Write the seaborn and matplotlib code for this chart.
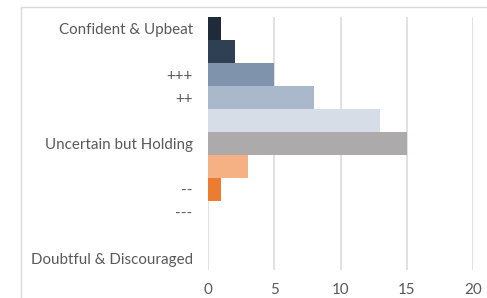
import matplotlib
matplotlib.use("Agg")
import matplotlib.pyplot as plt
import seaborn as sns
import pandas as pd
from matplotlib.patches import Rectangle

# Data
categories = ["Confident & Upbeat", "++++", "+++", "++", "+", "Uncertain but Holding",
              "-", "--", "---", "----", "Doubtful & Discouraged"]
tick_labels = ["Confident & Upbeat", "", "+++", "++", "", "Uncertain but Holding",
               "", "--", "---", "", "Doubtful & Discouraged"]
values = [1, 2, 5, 8, 13, 15, 3, 1, 0, 0, 0]
colors = ["#1f2a3a", "#2f3f54", "#8093ad", "#a9b8ca", "#d6dde7", "#adaaab",
          "#f5b184", "#ec7c30", "#c55a11", "#843c0c", "#5a2a08"]
x_ticks = [0, 5, 10, 15, 20]

sns.set_theme(style="white")
plt.rcParams['font.family'] = ['Lato', 'DejaVu Sans']

df = pd.DataFrame({"category": categories, "value": values})

fig = plt.figure(figsize=(4.87, 2.98), dpi=100)
# outer chart frame
fig.patches.append(Rectangle((21 / 487, -0.1), 1.2, (1 - 6.5 / 298) + 0.1,
                             transform=fig.transFigure, fill=False,
                             edgecolor="#d9d9d9", linewidth=1.0))
ax = fig.add_axes([208 / 487, 1 - 270 / 298, (473 - 208) / 487, 253 / 298])

sns.barplot(data=df, x="value", y="category", hue="category", palette=colors,
            order=categories, hue_order=categories, width=1.0, dodge=False,
            legend=False, orient="h", ax=ax, linewidth=0, saturation=1)

ax.set_xlim(0, 20)
ax.set_ylim(len(categories) - 0.5, -0.5)
ax.set_xticks(x_ticks)
ax.set_xticklabels([str(t) for t in x_ticks])
ax.set_yticks(range(len(categories)))
ax.set_yticklabels(tick_labels)
ax.set_xlabel("")
ax.set_ylabel("")

for t in x_ticks:
    ax.axvline(t, color="#d9d9d9", linewidth=1.1, zorder=0)

for s in ax.spines.values():
    s.set_visible(False)

ax.tick_params(axis="y", length=0, pad=11, labelsize=10.9, labelcolor="#595959")
ax.tick_params(axis="x", length=0, pad=9, labelsize=10.9, labelcolor="#595959")

fig.savefig("out.png", dpi=100)
